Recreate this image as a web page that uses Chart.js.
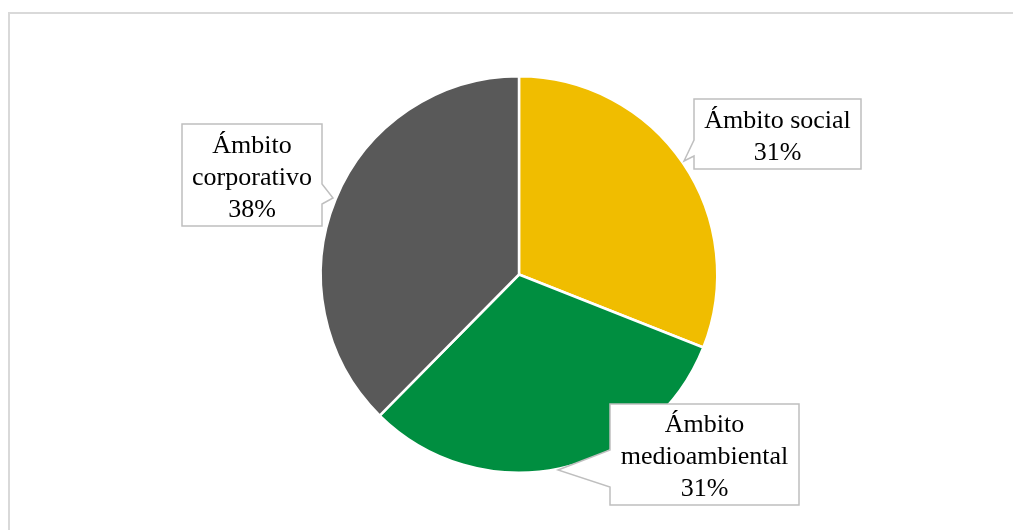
<!DOCTYPE html>
<html>
<head>
<meta charset="utf-8">
<script src="https://cdn.jsdelivr.net/npm/chart.js@4.4.1/dist/chart.umd.min.js"></script>
<style>
html,body{margin:0;padding:0;background:#fff;}
#wrap{position:relative;width:1013px;height:530px;}
</style>
</head>
<body>
<div id="wrap"><canvas id="c" width="1013" height="530"></canvas></div>
<script>
const categories = ["Ámbito social", "Ámbito medioambiental", "Ámbito corporativo"];
const labelLines = [["Ámbito social"], ["Ámbito", "medioambiental"], ["Ámbito", "corporativo"]];
const values = [31.0, 31.4, 37.6];
const colors = ["#F0BD00", "#008E40", "#595959"];

// callout layout: box (x,y,w,h) and pointer (base y1,y2 on side, tip)
const callouts = [
  {box:[694, 99, 167, 70], side:"left", base:[140, 156], tip:[684, 161]},
  {box:[610, 404, 189, 101], side:"left", base:[450, 487], tip:[558, 470]},
  {box:[182, 124, 140, 102], side:"right", base:[184, 204], tip:[333, 198]}
];

const frame = {
  id: "frame",
  beforeDraw(chart) {
    const ctx = chart.ctx;
    ctx.save();
    ctx.fillStyle = "#fff";
    ctx.fillRect(0, 0, chart.width, chart.height);
    ctx.strokeStyle = "#d9d9d9";
    ctx.lineWidth = 2;
    ctx.strokeRect(9, 13, chart.width + 20, chart.height + 20);
    ctx.restore();
  }
};

const calloutPlugin = {
  id: "callouts",
  afterDraw(chart) {
    const ctx = chart.ctx;
    const data = chart.data.datasets[0].data;
    const total = data.reduce((a, b) => a + b, 0);
    ctx.save();
    callouts.forEach((c, i) => {
      const [x, y, w, h] = c.box;
      ctx.beginPath();
      if (c.side === "left") {
        ctx.moveTo(x, y);
        ctx.lineTo(x + w, y);
        ctx.lineTo(x + w, y + h);
        ctx.lineTo(x, y + h);
        ctx.lineTo(x, c.base[1]);
        ctx.lineTo(c.tip[0], c.tip[1]);
        ctx.lineTo(x, c.base[0]);
        ctx.closePath();
      } else {
        ctx.moveTo(x, y);
        ctx.lineTo(x + w, y);
        ctx.lineTo(x + w, c.base[0]);
        ctx.lineTo(c.tip[0], c.tip[1]);
        ctx.lineTo(x + w, c.base[1]);
        ctx.lineTo(x + w, y + h);
        ctx.lineTo(x, y + h);
        ctx.closePath();
      }
      ctx.fillStyle = "#fff";
      ctx.fill();
      ctx.strokeStyle = "#bfbfbf";
      ctx.lineWidth = 1.5;
      ctx.stroke();
      const pct = Math.round(data[i] / total * 100) + "%";
      const lines = labelLines[i].concat([pct]);
      ctx.fillStyle = "#000";
      ctx.font = "26px 'Liberation Serif', 'Times New Roman', serif";
      ctx.textAlign = "center";
      ctx.textBaseline = "middle";
      const lh = 32;
      const cy = y + h / 2;
      lines.forEach((t, k) => {
        ctx.fillText(t, x + w / 2, cy + (k - (lines.length - 1) / 2) * lh + 3);
      });
    });
    ctx.restore();
  }
};

new Chart(document.getElementById("c"), {
  type: "pie",
  data: {
    labels: categories,
    datasets: [{
      data: values,
      backgroundColor: colors,
      borderColor: "#ffffff",
      borderWidth: 2.5
    }]
  },
  options: {
    responsive: false,
    animation: false,
    layout: {padding: {top: 75, bottom: 56, left: 25, right: 0}},
    plugins: {legend: {display: false}, tooltip: {enabled: false}}
  },
  plugins: [frame, calloutPlugin]
});
</script>
</body>
</html>
